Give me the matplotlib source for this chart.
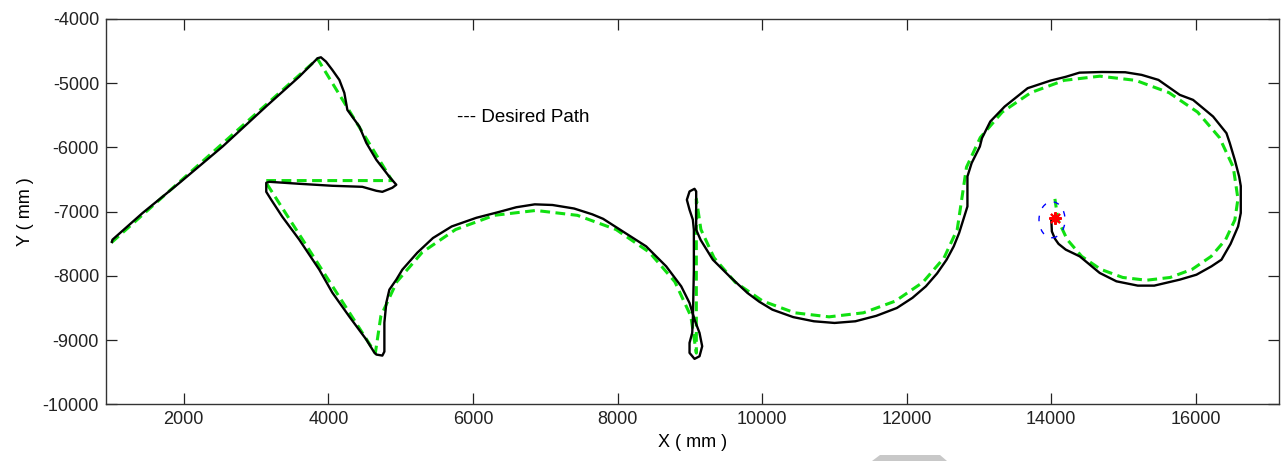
import matplotlib
matplotlib.use('Agg')
import matplotlib.pyplot as plt
from matplotlib.patches import Ellipse, Polygon

# desired path (mm) - straight legs then semicircles
desired_x = [1000, 3850, 4880, 3120,
             4650, 4726, 4947, 5300, 5760, 6295, 6870, 7445, 7980, 8440, 8793, 9014, 9090,
             9090, 9153, 9336, 9628, 10008, 10451, 10926, 11401, 11844, 12224, 12516, 12699, 12762,
             12827, 13018, 13321, 13717, 14178, 14672, 15166, 15627, 16023, 16326, 16517, 16582,
             16539, 16412, 16211, 15949, 15644, 15316, 14988, 14683, 14421, 14220, 14093, 14050]
desired_y = [-7480, -4620, -6515, -6515,
             -9200, -8625, -8090, -7630, -7277, -7056, -6980, -7056, -7277, -7630, -8090, -8625, -9200,
             -6800, -7275, -7718, -8098, -8390, -8573, -8636, -8573, -8390, -8098, -7718, -7275, -6800,
             -6306, -5845, -5449, -5146, -4955, -4890, -4955, -5146, -5449, -5845, -6306, -6800,
             -7128, -7433, -7695, -7896, -8023, -8066, -8023, -7896, -7695, -7433, -7128, -6800]

# measured robot path (mm)
actual_x = [1006, 1014, 1429, 1937, 2537, 3137, 3598, 3851, 3897, 3967, 4055, 4152, 4221, 4263,
            4429, 4525, 4664, 4844, 4940, 4885, 4747, 4664, 4470, 4055, 3598, 3183, 3141, 3141,
            3210, 3363, 3598, 3875, 4055, 4290, 4525, 4636, 4664, 4747, 4775, 4775, 4802, 4844,
            4940, 5023, 5231, 5447, 5706, 6048, 6338, 6600, 6855, 7100, 7400, 7650, 7800, 8073,
            8396, 8673, 8881, 8996,
            9065, 9134, 9171, 9134, 9065, 8996, 8996, 9033, 9042, 9056, 9056, 9042, 8996, 8959,
            8996, 9065, 9088, 9088, 9088, 9150, 9318, 9549, 9797, 9960, 10142, 10430, 10716, 11002,
            11290, 11580, 11864, 12080, 12265, 12420, 12552, 12650, 12725, 12840, 12840, 12898,
            13012, 13041, 13156, 13355, 13673, 13989, 14200, 14390, 14700, 15023, 15250, 15482,
            15777, 15961, 16238, 16423, 16469, 16538, 16598, 16621, 16621, 16584, 16480, 16354,
            16215, 16008, 15777, 15424, 15196, 14901, 14670, 14394, 14200, 14100, 14050, 14008, 14000]
actual_y = [-7471, -7435, -7021, -6554, -5985, -5363, -4897, -4611, -4596, -4663, -4793, -4948, -5150, -5415,
            -5674, -5928, -6192, -6456, -6580, -6627, -6690, -6674, -6612, -6596, -6565, -6534, -6550, -6690,
            -6814, -7078, -7435, -7902, -8259, -8632, -8990, -9192, -9223, -9239, -9177, -8726, -8415, -8213,
            -8057, -7902, -7637, -7409, -7229, -7094, -7010, -6930, -6885, -6895, -6950, -7040, -7110, -7306,
            -7539, -7850, -8161, -8420,
            -8679, -8886, -9094, -9250, -9290, -9197, -9041, -8886, -8679, -7902, -7280, -7124, -6969, -6814,
            -6684, -6643, -6684, -7000, -7280, -7440, -7746, -8005, -8264, -8400, -8524, -8640, -8705, -8731,
            -8705, -8620, -8498, -8340, -8161, -7960, -7746, -7540, -7331, -6918, -6451, -6243,
            -5985, -5855, -5596, -5363, -5077, -4959, -4900, -4835, -4825, -4829, -4870, -4948,
            -5181, -5259, -5518, -5777, -5932, -6192, -6451, -6600, -7020, -7229, -7500, -7746,
            -7850, -7980, -8057, -8150, -8150, -8083, -7953, -7695, -7590, -7500, -7420, -7306, -7125]

# goal point and the dashed zone around it
goal_x = 14047
goal_y = -7098
zone_x = 14010
zone_y = -7125
zone_w = 360
zone_h = 560

x_ticks = [2000, 4000, 6000, 8000, 10000, 12000, 14000, 16000]
y_ticks = [-10000, -9000, -8000, -7000, -6000, -5000, -4000]

plt.rcParams['font.family'] = ['Liberation Sans', 'DejaVu Sans']
plt.rcParams['font.size'] = 13
plt.rcParams['axes.unicode_minus'] = False

fig = plt.figure(figsize=(12.87, 4.61), dpi=100)
ax = fig.add_axes([0.0824, 0.1226, 0.9114, 0.8362])

ax.plot(desired_x, desired_y, color='#10e010', lw=2.2, dashes=(3.2, 1.8), zorder=2)
ax.plot(actual_x, actual_y, color='black', lw=1.7, zorder=3)
ax.add_patch(Ellipse((zone_x, zone_y), zone_w, zone_h, fill=False, edgecolor='blue',
                     lw=1, linestyle=(0, (4, 6)), zorder=4))
ax.plot([goal_x], [goal_y], marker=(8, 2, 0), color='red', ms=9, mew=1.5, zorder=5)

ax.text(5785, -5540, '--- Desired Path', fontsize=13.5, va='center', ha='left')

ax.set_xlim(925, 17150)
ax.set_ylim(-10000, -4000)
ax.set_xticks(x_ticks)
ax.set_yticks(y_ticks)
ax.tick_params(direction='in', length=8, width=0.9, top=True, right=True, pad=5,
               labelsize=13, colors='#222222')
for sp in ax.spines.values():
    sp.set_linewidth(1.0)
    sp.set_color('#333333')

ax.set_xlabel('X ( mm )', labelpad=4)
ax.set_ylabel('Y ( mm )', labelpad=6)

# grey tab cut off at the bottom edge of the picture
fig.patches.append(Polygon([[872 / 1287, 0], [880 / 1287, 6 / 461], [940 / 1287, 6 / 461],
                            [947 / 1287, 0]], closed=True, transform=fig.transFigure,
                           facecolor='#c8c8c8', edgecolor='none'))

plt.savefig('out.png', dpi=100)
